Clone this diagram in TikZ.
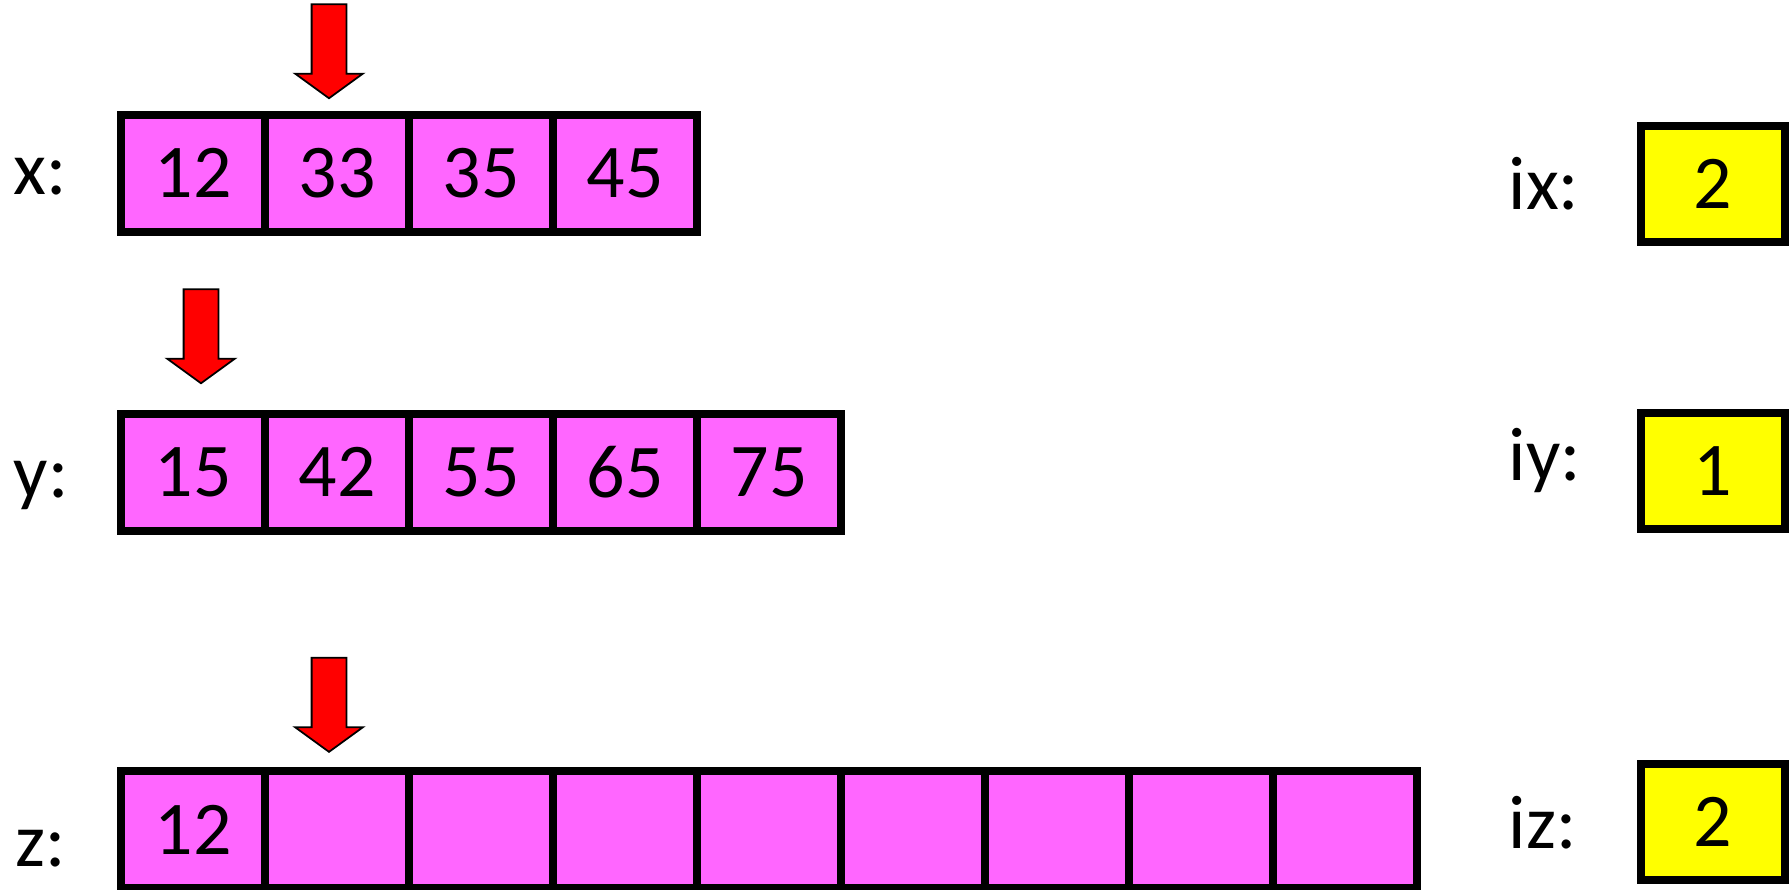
\documentclass[tikz,border=0pt]{standalone}
\usepackage{fontspec}
\setmainfont{Carlito}
\usetikzlibrary{positioning,shapes.arrows}
\definecolor{cellpink}{HTML}{FF66FF}
\definecolor{idxyellow}{HTML}{FFFF00}

\begin{document}
\begin{tikzpicture}[
    font=\fontsize{21.6pt}{26pt}\selectfont,
    cell/.style={
        draw,
        line width=0.08cm,
        fill=cellpink,
        minimum width=1.44cm,
        minimum height=1.165cm,
        inner sep=0pt,
        outer sep=0pt
    },
    idx/.style={cell, fill=idxyellow},
    lbl/.style={anchor=base west, inner sep=0pt},
    pointer/.style={
        single arrow,
        draw,
        line width=0.5pt,
        fill=red,
        minimum height=0.94cm,
        minimum width=0.66cm,
        single arrow head extend=0.165cm,
        single arrow tip angle=108,
        inner sep=0.165cm,
        shape border rotate=270
    }
]
\useasboundingbox (0,0) rectangle (17.91,8.89);

% ============================================================
% TABLICA x
% ============================================================
\node[lbl] (lx) at (0.13,6.94) {x:};
\node[cell] (x1) at (1.93,7.157) {12};
\node[cell, right=0pt of x1] (x2) {33};
\node[cell, right=0pt of x2] (x3) {35};
\node[cell, right=0pt of x3] (x4) {45};
\node[pointer, above=0.157cm of x2.north, anchor=tip, xshift=-0.08cm] (px) {};

% ============================================================
% TABLICA y
% ============================================================
\node[lbl] (ly) at (0.13,3.92) {y:};
\node[cell] (y1) at (1.93,4.167) {15};
\node[cell, right=0pt of y1] (y2) {42};
\node[cell, right=0pt of y2] (y3) {55};
\node[cell, right=0pt of y3] (y4) {65};
\node[cell, right=0pt of y4] (y5) {75};
\node[pointer, above=0.297cm of y1.north, anchor=tip, xshift=0.08cm] (py) {};

% ============================================================
% TABLICA z
% ============================================================
\node[lbl] (lz) at (0.15,0.223) {z:};
\node[cell] (z1) at (1.93,0.595) {12};
\node[cell, right=0pt of z1] (z2) {};
\node[cell, right=0pt of z2] (z3) {};
\node[cell, right=0pt of z3] (z4) {};
\node[cell, right=0pt of z4] (z5) {};
\node[cell, right=0pt of z5] (z6) {};
\node[cell, right=0pt of z6] (z7) {};
\node[cell, right=0pt of z7] (z8) {};
\node[cell, right=0pt of z8] (z9) {};
\node[pointer, above=0.183cm of z2.north, anchor=tip, xshift=-0.08cm] (pz) {};

% ============================================================
% INDEKSY
% ============================================================
\node[lbl] (lix) at (15.08,6.79) {ix:};
\node[idx] (ix) at (17.13,7.048) {2};
\node[lbl] (liy) at (15.08,4.09) {iy:};
\node[idx] (iy) at (17.13,4.18) {1};
\node[lbl] (liz) at (15.08,0.41) {iz:};
\node[idx] (iz) at (17.13,0.67) {2};

\end{tikzpicture}
\end{document}
